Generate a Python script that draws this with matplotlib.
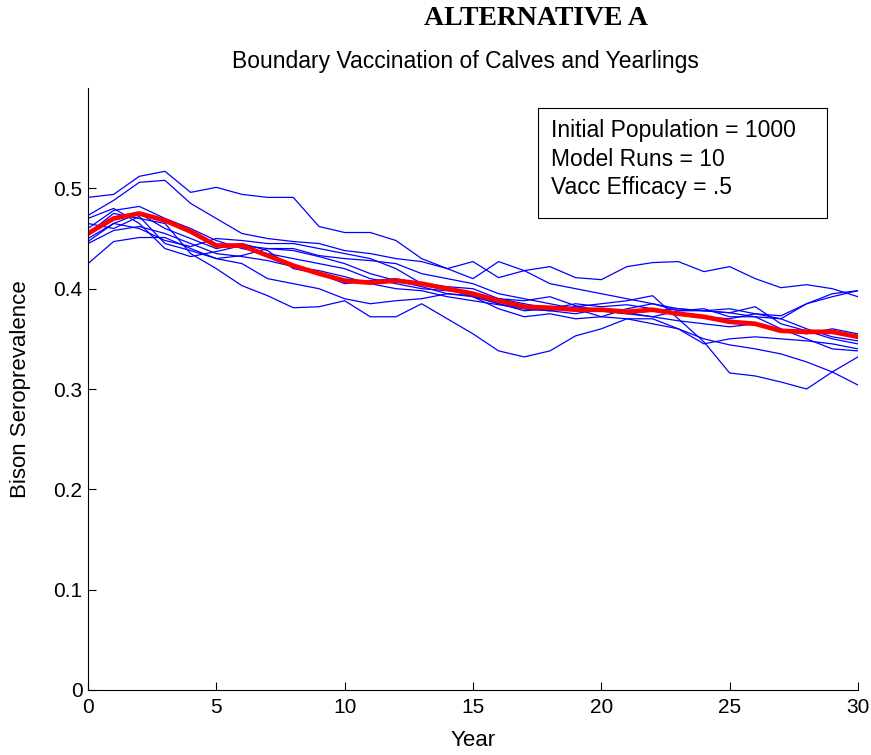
import numpy as np
import matplotlib
matplotlib.use("Agg")
import matplotlib.pyplot as plt
from matplotlib.patches import Rectangle

plt.rcParams['font.family'] = ['Liberation Sans', 'DejaVu Sans']

years = np.arange(0, 31)

# individual model runs
run1 = [.491, .494, .512, .517, .496, .501, .494, .491, .491, .462, .456, .456, .448, .430, .420,
        .427, .411, .418, .422, .411, .409, .422, .426, .427, .417, .422, .410, .401, .404, .400, .392]
run2 = [.473, .488, .506, .508, .485, .470, .455, .450, .447, .445, .438, .435, .430, .427, .420,
        .410, .427, .418, .405, .400, .395, .390, .385, .380, .378, .380, .375, .370, .385, .395, .398]
run3 = [.425, .447, .451, .451, .440, .430, .425, .410, .405, .400, .390, .385, .388, .390, .395,
        .393, .385, .380, .378, .382, .378, .375, .378, .380, .378, .376, .372, .370, .360, .352, .348]
run4 = [.455, .475, .470, .465, .435, .420, .403, .393, .381, .382, .388, .372, .372, .385, .370,
        .355, .338, .332, .338, .353, .360, .370, .365, .360, .345, .350, .352, .350, .348, .345, .340]
run5 = [.465, .460, .472, .445, .438, .430, .433, .440, .440, .433, .430, .428, .425, .415, .410,
        .405, .395, .390, .385, .380, .372, .370, .370, .360, .350, .344, .340, .335, .327, .317, .304]
run6 = [.450, .465, .460, .448, .442, .450, .448, .445, .445, .440, .435, .430, .420, .405, .400,
        .392, .385, .378, .380, .382, .385, .388, .393, .370, .347, .316, .313, .307, .300, .317, .332]
run7 = [.460, .478, .482, .470, .460, .448, .440, .435, .430, .425, .420, .410, .405, .400, .398,
        .395, .390, .385, .380, .385, .382, .384, .380, .375, .372, .370, .375, .373, .385, .392, .398]
run8 = [.447, .465, .475, .460, .450, .440, .445, .438, .420, .415, .405, .408, .410, .405, .402,
        .400, .390, .388, .392, .383, .378, .375, .372, .378, .378, .376, .382, .365, .358, .350, .345]
run9 = [.470, .480, .465, .440, .432, .437, .443, .440, .438, .432, .425, .415, .408, .402, .395,
        .392, .380, .372, .375, .370, .372, .380, .385, .378, .380, .372, .372, .360, .350, .340, .338]
run10 = [.445, .458, .462, .455, .445, .435, .432, .428, .422, .418, .412, .405, .400, .398, .392,
         .388, .384, .380, .378, .375, .380, .376, .372, .368, .365, .362, .365, .358, .355, .360, .355]
runs = [run1, run2, run3, run4, run5, run6, run7, run8, run9, run10]

# mean of the runs (red line)
mean_run = [.455, .470, .475, .468, .457, .443, .443, .433, .423, .415, .408, .406, .408, .405, .400,
            .395, .388, .382, .381, .379, .379, .377, .379, .375, .372, .367, .365, .358, .357, .357, .352]

fig = plt.figure(figsize=(8.71, 7.55), dpi=100)
ax = fig.add_axes([0.101, 0.0861, 0.884, 0.7973])

for r in runs:
    ax.plot(years, r, color=(0, 0, 1), linewidth=0.9)
ax.plot(years, mean_run, color=(1, 0, 0), linewidth=3.4)

ax.set_xlim(0, 30)
ax.set_ylim(0, 0.6)
ax.set_xticks(np.arange(0, 31, 5))
ax.set_yticks([0, 0.1, 0.2, 0.3, 0.4, 0.5])
ax.set_yticklabels(['0', '0.1', '0.2', '0.3', '0.4', '0.5'])
ax.spines['top'].set_visible(False)
ax.spines['right'].set_visible(False)
ax.tick_params(direction='in', length=6, labelsize=15)
ax.tick_params(axis='x', pad=6)
ax.tick_params(axis='y', pad=4)
ax.set_xlabel('Year', fontsize=16)
ax.set_ylabel('Bison Seroprevalence', fontsize=16)
ax.xaxis.set_label_coords(0.5, -0.066)
ax.yaxis.set_label_coords(-0.074, 0.5)

# info box
ax.add_patch(Rectangle((0.584, 0.784), 0.376, 0.183, transform=ax.transAxes,
                       fill=False, edgecolor='black', linewidth=0.8))
ax.text(0.601, 0.930, 'Initial Population = 1000', transform=ax.transAxes, fontsize=16.5, va='center')
ax.text(0.601, 0.882, 'Model Runs = 10', transform=ax.transAxes, fontsize=16.5, va='center')
ax.text(0.601, 0.834, 'Vacc Efficacy = .5', transform=ax.transAxes, fontsize=16.5, va='center')

fig.text(0.615, 0.976, 'ALTERNATIVE A', family='Liberation Serif', fontweight='bold',
         fontsize=20, ha='center', va='center')
fig.text(0.534, 0.919, 'Boundary Vaccination of Calves and Yearlings', fontsize=16.5,
         ha='center', va='center')

fig.savefig('out.png', dpi=100)
